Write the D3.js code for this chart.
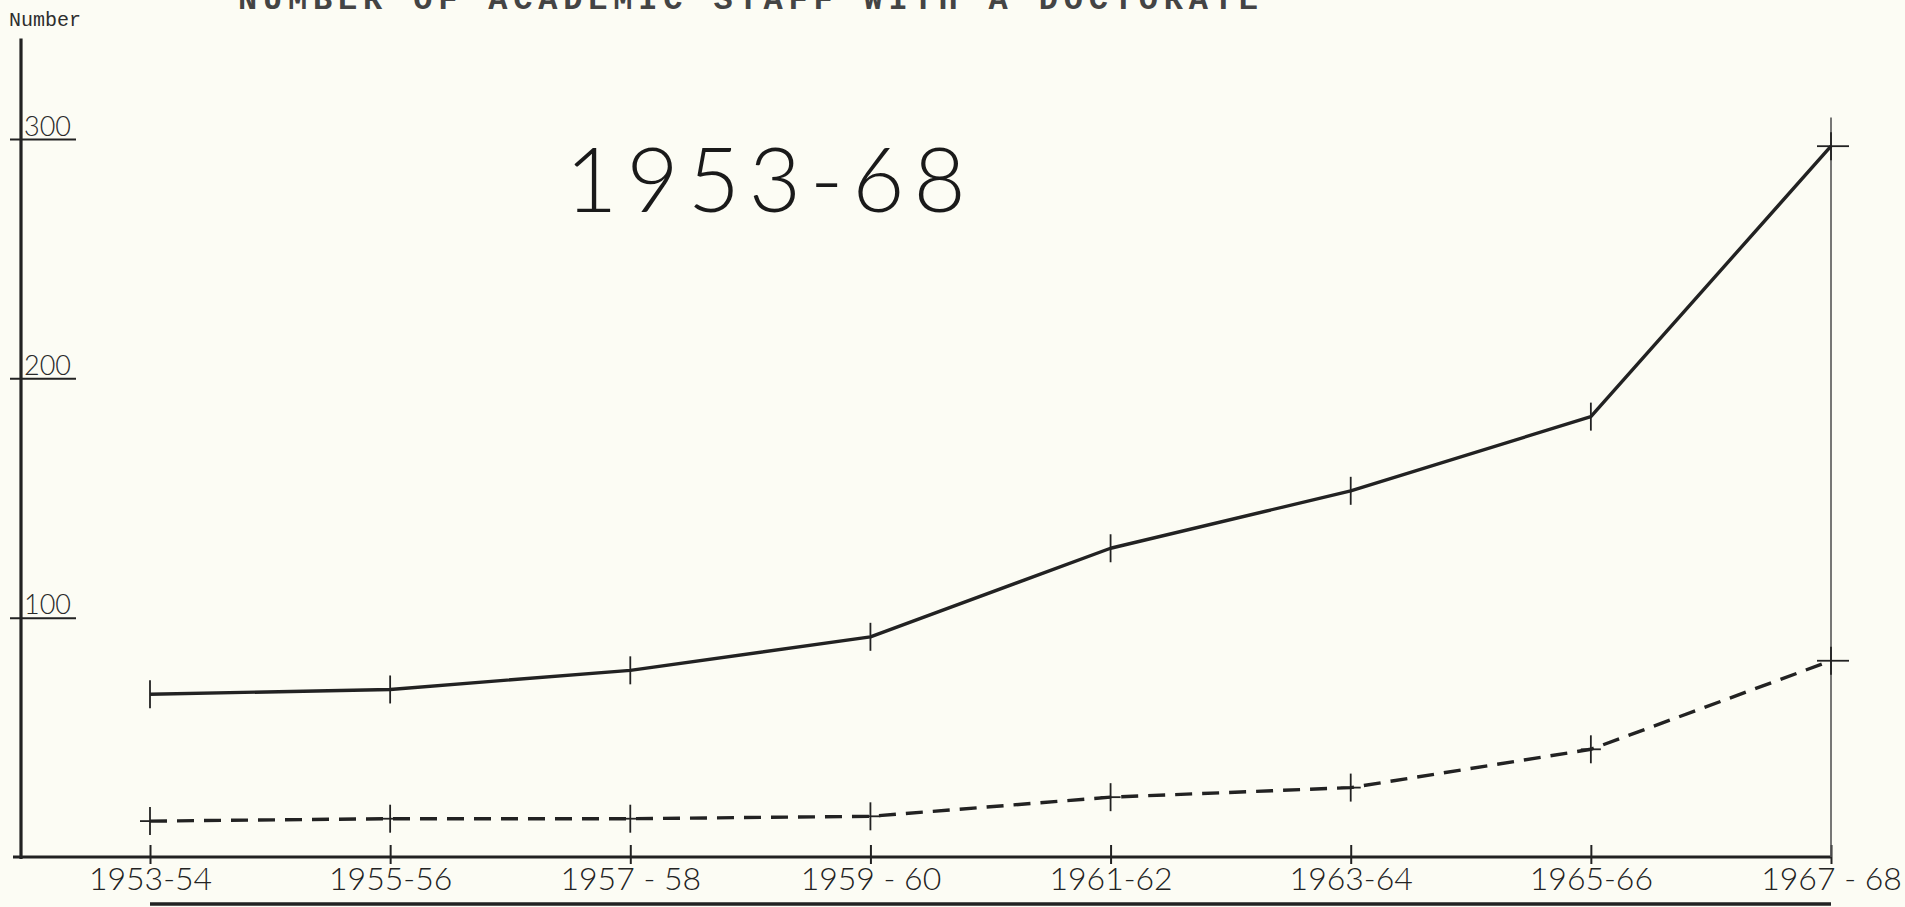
<!DOCTYPE html>
<html>
<head>
<meta charset="utf-8">
<script src="https://cdn.jsdelivr.net/npm/d3@7"></script>
<style>
  html, body { margin: 0; padding: 0; background: #fcfcf4; }
  svg { display: block; }
</style>
</head>
<body>
<svg id="chart" width="1905" height="907"></svg>
<script>
// ---- data ----
const categories = ["1953-54", "1955-56", "1957 - 58", "1959 - 60", "1961-62", "1963-64", "1965-66", "1967 - 68"];
const solidValues = [68, 70, 78, 92, 129, 153, 184, 297];
const dashedValues = [15, 16, 16, 17, 25, 29, 45, 82];
const yTickValues = [100, 200, 300];
const yTickLabels = ["100", "200", "300"];
const periodLabel = "1953-68";
const yAxisTitle = "Number";
const topTitle = "NUMBER OF ACADEMIC STAFF WITH A DOCTORATE";

// ---- layout ----
const W = 1905, H = 907;
const ink = "#222";
const letterFont = "Lato, 'Open Sans', 'DejaVu Sans', sans-serif";
const typeFont = "'Liberation Mono', 'DejaVu Sans Mono', monospace";

const svg = d3.select("#chart");
svg.append("rect").attr("width", W).attr("height", H).attr("fill", "#fcfcf4");

const axisX = 21;
const x = d3.scalePoint().domain(categories).range([150, 1831]);
const y = d3.scaleLinear().domain([0, 300]).range([857, 139]);
const first = categories[0], last = categories[categories.length - 1];

// top (cut-off) typewriter title
svg.append("text")
  .attr("x", 238).attr("y", 9)
  .attr("font-family", typeFont).attr("font-size", 32).attr("font-weight", 700)
  .attr("textLength", 1020).attr("lengthAdjust", "spacing")
  .attr("fill", "#444")
  .text(topTitle);

// "Number"
svg.append("text")
  .attr("x", 9).attr("y", 26)
  .attr("font-family", typeFont).attr("font-size", 20)
  .attr("fill", "#2e2e2e")
  .text(yAxisTitle);

// big period label
svg.append("text")
  .attr("x", 770)
  .attr("y", 212)
  .attr("text-anchor", "middle")
  .attr("font-family", letterFont).attr("font-weight", 300)
  .attr("font-size", 90).attr("letter-spacing", 9)
  .attr("fill", "#1a1a1a")
  .text(periodLabel);

// ---- Y axis ----
const yAxis = d3.axisLeft(y).tickValues(yTickValues).tickSize(0).tickFormat((d, i) => yTickLabels[i]);
const gy = svg.append("g").attr("transform", `translate(${axisX},0)`).call(yAxis);
gy.select(".domain").remove();
gy.selectAll(".tick line")
  .attr("x1", -11).attr("x2", 55)
  .attr("stroke", ink).attr("stroke-width", 2);
gy.selectAll(".tick text")
  .attr("x", 3).attr("dy", -4)
  .attr("text-anchor", "start")
  .attr("font-family", letterFont).attr("font-weight", 300)
  .attr("font-size", 27).attr("fill", "#2a2a2a");
svg.append("line")
  .attr("x1", axisX).attr("x2", axisX)
  .attr("y1", y(0) + 2).attr("y2", y(342))
  .attr("stroke", ink).attr("stroke-width", 3.2);

// ---- X axis ----
const xAxis = d3.axisBottom(x).tickSize(0);
const gx = svg.append("g").attr("transform", `translate(0,${y(0)})`).call(xAxis);
gx.select(".domain").remove();
gx.selectAll(".tick line")
  .attr("y1", -12).attr("y2", 7)
  .attr("stroke", ink).attr("stroke-width", 2);
gx.selectAll(".tick text")
  .attr("y", 33).attr("dy", 0)
  .attr("font-family", letterFont).attr("font-weight", 300)
  .attr("font-size", 32)
  .attr("fill", "#222");
svg.append("line")
  .attr("x1", axisX - 8).attr("x2", x(last))
  .attr("y1", y(0)).attr("y2", y(0))
  .attr("stroke", ink).attr("stroke-width", 3.2);
// underline beneath labels
svg.append("line")
  .attr("x1", x(first)).attr("x2", x(last))
  .attr("y1", y(0) + 47).attr("y2", y(0) + 47)
  .attr("stroke", ink).attr("stroke-width", 3.5);
// right frame line
svg.append("line")
  .attr("x1", x(last)).attr("x2", x(last))
  .attr("y1", y(0)).attr("y2", y(309))
  .attr("stroke", "#555").attr("stroke-width", 1.6);

// ---- series ----
const line = d3.line().x((d, i) => x(categories[i])).y(d => y(d));

svg.append("path").datum(solidValues)
  .attr("d", line).attr("fill", "none")
  .attr("stroke", ink).attr("stroke-width", 3.4)
  .attr("stroke-linejoin", "round");

svg.append("path").datum(dashedValues)
  .attr("d", line).attr("fill", "none")
  .attr("stroke", ink).attr("stroke-width", 3.4)
  .attr("stroke-dasharray", "17,10");

function markers(values, hLeft, hRight, vLen) {
  const g = svg.append("g");
  values.forEach((v, i) => {
    const cx = x(categories[i]), cy = y(v);
    g.append("line").attr("x1", cx).attr("x2", cx)
      .attr("y1", cy - vLen).attr("y2", cy + vLen)
      .attr("stroke", ink).attr("stroke-width", 1.8);
    const isLast = i === values.length - 1;
    g.append("line")
      .attr("x1", cx - (isLast ? 14 : hLeft)).attr("x2", cx + (isLast ? 18 : hRight))
      .attr("y1", cy).attr("y2", cy)
      .attr("stroke", ink).attr("stroke-width", 1.8);
  });
}
markers(solidValues, 0, 0, 14);
markers(dashedValues, 10, 10, 14);
</script>
</body>
</html>
